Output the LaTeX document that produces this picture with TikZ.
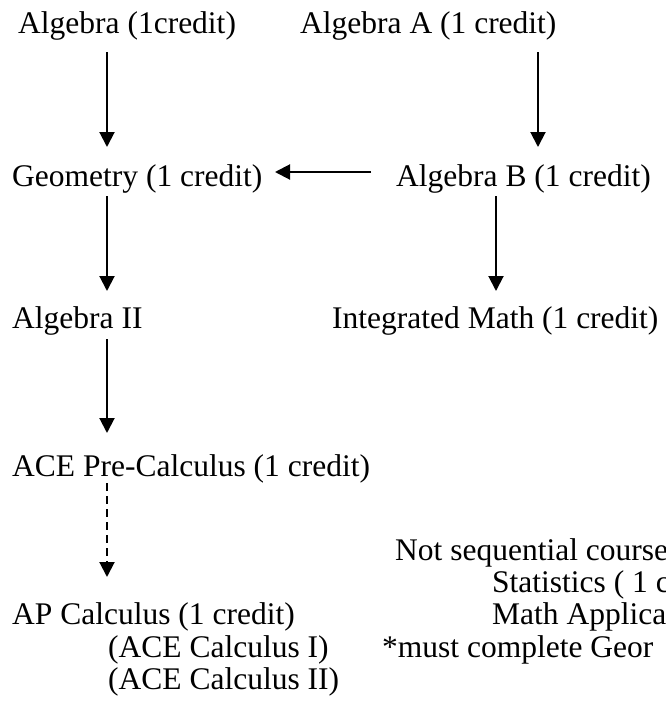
\documentclass[tikz,border=0pt]{standalone}
\usepackage{fontspec}
\setmainfont{Liberation Serif}
\usetikzlibrary{arrows.meta}
\begin{document}
\begin{tikzpicture}[x=1pt,y=-1pt,
  lbl/.style={anchor=base west, inner sep=0pt, font=\fontsize{31.5}{36}\selectfont},
  arr/.style={line width=2pt, -{Triangle[length=15pt,width=15pt]}},
  darr/.style={arr, dash pattern=on 8pt off 5pt}]
\useasboundingbox (0,0) rectangle (665,702);
\clip (0,0) rectangle (665,702);
% nodes
\node[lbl] (alg)  at (18,33)  {Algebra (1credit)};
\node[lbl] (algA) at (300,33) {Algebra A (1 credit)};
\node[lbl] (geo)  at (12,186) {Geometry (1 credit)};
\node[lbl] (algB) at (396,186) {Algebra B (1 credit)};
\node[lbl] (alg2) at (12,328) {Algebra II};
\node[lbl] (intm) at (332,328) {Integrated Math (1 credit)};
\node[lbl] (pre)  at (12,476) {ACE Pre-Calculus (1 credit)};
\node[lbl] (ap)   at (12,624) {AP Calculus (1 credit)};
\node[lbl] (ace1) at (108,657) {(ACE Calculus I)};
\node[lbl] (ace2) at (108,689) {(ACE Calculus II)};
\node[lbl] (ns)   at (395,560) {Not sequential course};
\node[lbl] (stat) at (492,592) {Statistics ( 1 c};
\node[lbl] (mapp) at (492,624) {Math Applica};
\node[lbl] (must) at (382,657) {*must complete Geor};
% connector end points
\coordinate (a1s) at (107,52);  \coordinate (a1e) at (107,147);
\coordinate (a2s) at (538,52);  \coordinate (a2e) at (538,147);
\coordinate (hs)  at (371,172); \coordinate (he)  at (275,172);
\coordinate (g1s) at (107,196); \coordinate (g1e) at (107,291);
\coordinate (b1s) at (496,196); \coordinate (b1e) at (496,291);
\coordinate (l3s) at (107,339); \coordinate (l3e) at (107,433);
\coordinate (ds)  at (107,483); \coordinate (de)  at (107,577);
% connectors
\draw[arr] (a1s) -- (a1e);
\draw[arr] (a2s) -- (a2e);
\draw[arr] (hs) -- (he);
\draw[arr] (g1s) -- (g1e);
\draw[arr] (b1s) -- (b1e);
\draw[arr] (l3s) -- (l3e);
\draw[darr] (ds) -- (de);
\end{tikzpicture}
\end{document}
